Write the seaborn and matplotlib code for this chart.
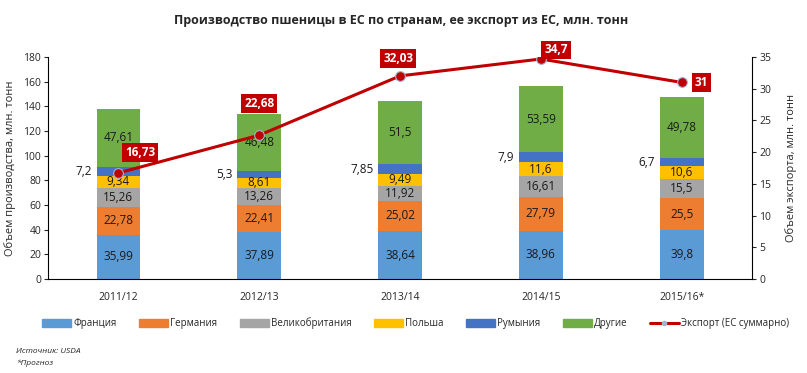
import numpy as np
import pandas as pd
import matplotlib
matplotlib.use('Agg')
import matplotlib.pyplot as plt
import seaborn as sns
from matplotlib.lines import Line2D
from matplotlib.patches import Patch

# data
seasons = ['2011/12', '2012/13', '2013/14', '2014/15', '2015/16*']
france = [35.99, 37.89, 38.64, 38.96, 39.8]
germany = [22.78, 22.41, 25.02, 27.79, 25.5]
uk = [15.26, 13.26, 11.92, 16.61, 15.5]
poland = [9.34, 8.61, 9.49, 11.6, 10.6]
romania = [7.2, 5.3, 7.85, 7.9, 6.7]
other = [47.61, 46.48, 51.5, 53.59, 49.78]
export = [16.73, 22.68, 32.03, 34.7, 31]

series_names = ['Франция', 'Германия', 'Великобритания', 'Польша', 'Румыния', 'Другие']
series_colors = ['#5B9BD5', '#ED7D31', '#A5A5A5', '#FFC000', '#4472C4', '#70AD47']
line_color = '#C00000'

# offsets (pixels) of the red export labels from their points
export_offsets = [(22, 20), (0, 32), (-2, 17), (15, 9), (20, 0)]


def main():
    sns.set_style('white')
    plt.rcParams['font.family'] = ['Open Sans', 'DejaVu Sans']

    values = np.array([france, germany, uk, poland, romania, other])
    cum = values.cumsum(axis=0)
    df = pd.DataFrame(cum.T, columns=series_names)
    df['season'] = seasons

    fig = plt.figure(figsize=(8.07, 3.73), dpi=100)
    ax = fig.add_axes([0.0595, 0.252, 0.8725, 0.595])

    # stacked bars: draw cumulative totals from the top layer down
    for name, color in reversed(list(zip(series_names, series_colors))):
        sns.barplot(data=df, x='season', y=name, color=color, width=0.31,
                    saturation=1, linewidth=0, ax=ax)

    # segment labels
    for i in range(len(seasons)):
        for k in range(len(series_names)):
            mid = cum[k, i] - values[k, i] / 2
            txt = f'{values[k, i]:g}'.replace('.', ',')
            if k == 4:
                ax.text(i - 0.19, mid, txt, ha='right', va='center', fontsize=8.5, color='#1a1a1a')
            else:
                ax.text(i, mid, txt, ha='center', va='center', fontsize=8.5, color='#1a1a1a')

    ax.set_ylim(0, 180)
    ax.set_yticks(range(0, 181, 20))
    ax.set_xlim(-0.5, 4.5)
    ax.set_xlabel('')
    ax.set_ylabel('Объем производства, млн. тонн', fontsize=8, labelpad=4)
    ax.yaxis.set_label_coords(-0.046, 0.5)
    for s in ['top', 'right']:
        ax.spines[s].set_visible(False)
    ax.spines['left'].set_color('black')
    ax.spines['bottom'].set_color('black')
    ax.tick_params(axis='y', left=True, length=3, labelsize=7.5, pad=2)
    ax.tick_params(axis='x', bottom=False, labelsize=7.5, pad=6)

    # export line on the right axis
    ax2 = ax.twinx()
    sns.lineplot(x=np.arange(len(seasons)), y=export, color=line_color, linewidth=2.2,
                 marker='o', markersize=7, markerfacecolor=line_color,
                 markeredgecolor='#9DB4D8', markeredgewidth=0.8, ax=ax2)
    ax2.set_ylim(0, 35)
    ax2.set_yticks(range(0, 36, 5))
    ax2.set_ylabel('Объем экспорта, млн. тонн', fontsize=8, rotation=90)
    ax2.yaxis.set_label_coords(1.047, 0.5)
    for s in ['top', 'left', 'bottom']:
        ax2.spines[s].set_visible(False)
    ax2.spines['right'].set_color('black')
    ax2.tick_params(axis='y', right=True, length=3, labelsize=7.5, pad=2)
    ax2.set_xlim(-0.5, 4.5)

    for i, (v, off) in enumerate(zip(export, export_offsets)):
        ax2.annotate(f'{v:g}'.replace('.', ','), (i, v), xytext=off,
                     textcoords='offset pixels', ha='center', va='center',
                     fontsize=8.5, fontweight='bold', color='white',
                     bbox=dict(boxstyle='square,pad=0.25', fc=line_color, ec='none'))

    fig.text(0.497, 0.944, 'Производство пшеницы в ЕС по странам, ее экспорт из ЕС, млн. тонн',
             ha='center', va='center', fontsize=9, fontweight='bold')

    handles = [Patch(color=c, label=n) for n, c in zip(series_names, series_colors)]
    handles.append(Line2D([0], [0], color=line_color, lw=2.2, marker='o', markersize=3,
                          markerfacecolor='#9DB4D8', markeredgecolor='#9DB4D8',
                          label='Экспорт (ЕС суммарно)'))
    fig.legend(handles=handles, loc='center', bbox_to_anchor=(0.515, 0.133), ncol=7,
               frameon=False, fontsize=7, handlelength=3.0, handleheight=0.8,
               columnspacing=2.3, handletextpad=0.2)

    fig.text(0.02, 0.057, 'Источник: USDA', fontsize=6, style='italic', va='center')
    fig.text(0.02, 0.027, '*Прогноз', fontsize=6, style='italic', va='center')

    fig.savefig('out.png', dpi=100)


if __name__ == '__main__':
    main()
